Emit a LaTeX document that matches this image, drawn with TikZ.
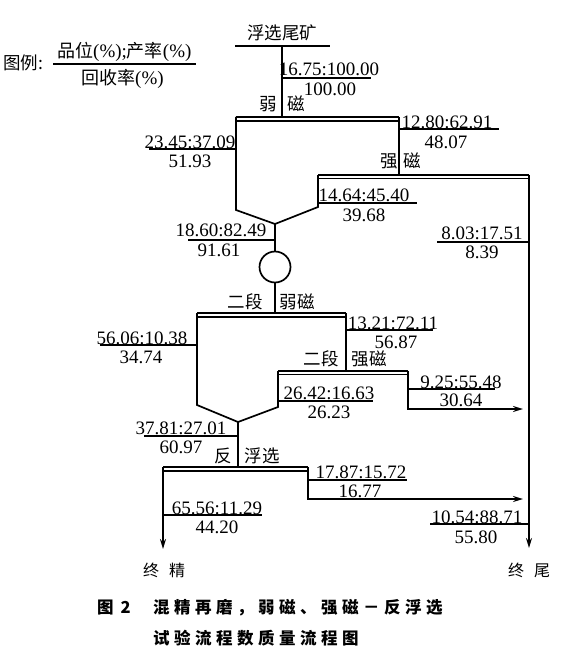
\documentclass[tikz,border=0pt]{standalone}
\usepackage{fontspec}
\setmainfont{Liberation Serif}
\newfontfamily\cjk{Noto Sans CJK SC}
\usetikzlibrary{arrows.meta}
\newcommand\gp{\kern4.5pt}
\begin{document}
\begin{tikzpicture}[x=1pt,y=-1pt,
  num/.style={font=\fontsize{19}{20}\selectfont,inner sep=0pt},
  zh/.style={font=\cjk\fontsize{17.5}{20}\selectfont,inner sep=0pt},
  captxt/.style={font=\cjk\bfseries\fontsize{16.5}{20}\selectfont,inner sep=0pt,anchor=west},
  flow/.style={line width=1.7pt,line join=miter},
  ul/.style={line width=1.3pt},
  dbl/.style={line width=1.2pt},
  arr/.style={flow,-{Stealth[length=10pt,width=6pt]}}]
\useasboundingbox (0,0) rectangle (567,658);
% ---------- legend ----------
\node[zh] (lg) at (23,63) {图例:};
\node[num,anchor=west] (lgt) at (57,52) {{\cjk\fontsize{18}{20}\selectfont 品位}(\%);{\cjk\fontsize{18}{20}\selectfont 产率}(\%)};
\node[num,anchor=west] (lgb) at (81,79) {{\cjk\fontsize{18}{20}\selectfont 回收率}(\%)};
\draw[ul] (53,64) -- (196,64);
% ---------- feed ----------
\node[zh] (feed) at (282,33) {浮选尾矿};
\coordinate (ft) at (282,46);
\draw[flow] (235,46) -- (330,46);
\node[num] (l1a) at (329,69) {16.75:100.00};
\node[num] (l1b) at (330,89) {100.00};
\draw[ul] (282,78) -- (371,78);
\node[zh] (s1a) at (268,104) {弱};
\node[zh] (s1b) at (296,104) {磁};
% ---------- separator 1 ----------
\coordinate (s1tl) at (236,117);
\coordinate (s1tr) at (399,117);
\coordinate (s1bot) at (275,224);
\coordinate (s1r) at (318,207);
\coordinate (s2tl) at (318,175);
\coordinate (s2tm) at (399,175);
\coordinate (s2tr) at (529,175);
\draw[flow] (ft) -- (282,117);
\draw[dbl] (s1tl) -- (s1tr);
\draw[dbl] (236,121) -- (399,121);
\draw[flow] (s1tl) -- (236,210) -- (s1bot) -- (s1r) -- (s2tl);
\draw[flow] (s1tr) -- (s2tm);
\node[num] (l2a) at (447,122) {12.80:62.91};
\node[num] (l2b) at (446,142) {48.07};
\draw[ul] (399,129) -- (499,129);
\node[num] (l3a) at (190,142) {23.45:37.09};
\node[num] (l3b) at (190,161) {51.93};
\draw[ul] (149,149) -- (236,149);
\node[zh] (s2a) at (389,161) {强};
\node[zh] (s2b) at (412,161) {磁};
% ---------- strong magnetic ----------
\draw[dbl] (s2tl) -- (s2tr);
\draw[dbl] (318,178.5) -- (529,178.5);
\coordinate (tail) at (529,548);
\draw[arr] (s2tr) -- (tail);
\node[num] (l4a) at (364,195) {14.64:45.40};
\node[num] (l4b) at (364,215) {39.68};
\draw[ul] (318,203) -- (417,203);
\node[num] (l5a) at (482,233) {8.03:17.51};
\node[num] (l5b) at (482,252) {8.39};
\draw[ul] (437,242) -- (529,242);
\node[num] (l6a) at (221,230) {18.60:82.49};
\node[num] (l6b) at (219,250) {91.61};
\draw[ul] (188,240) -- (275,240);
% ---------- regrind ----------
\node[circle,draw,line width=1.7pt,minimum size=31pt,inner sep=0pt] (mill) at (275,267) {};
\draw[flow] (s1bot) -- (mill.north);
\coordinate (s3t) at (275,313);
\draw[flow] (mill.south) -- (s3t);
\node[zh] (s3a) at (245,302) {二段};
\node[zh] (s3b) at (297,302) {弱磁};
% ---------- separator 3 ----------
\coordinate (s3tl) at (197,313);
\coordinate (s3tr) at (346,313);
\coordinate (s3bot) at (238,422);
\coordinate (s4tl) at (278,371);
\coordinate (s4tm) at (346,371);
\coordinate (s4tr) at (408,371);
\draw[dbl] (s3tl) -- (s3tr);
\draw[dbl] (197,317) -- (346,317);
\draw[flow] (s3tl) -- (197,405) -- (s3bot) -- (278,407) -- (s4tl);
\draw[flow] (s3tr) -- (s4tm);
\node[num] (l7a) at (393,323) {13.21:72.11};
\node[num] (l7b) at (396,342) {56.87};
\draw[ul] (346,330) -- (433,330);
\node[num] (l8a) at (142,338) {56.06:10.38};
\node[num] (l8b) at (141,357) {34.74};
\draw[ul] (100,345) -- (197,345);
\node[zh] (s4a) at (321,359) {二段};
\node[zh] (s4b) at (369,359) {强磁};
% ---------- separator 4 ----------
\draw[dbl] (s4tl) -- (s4tr);
\draw[dbl] (278,374.5) -- (408,374.5);
\coordinate (t2) at (523,409);
\draw[arr] (s4tr) -- (408,409) -- (t2);
\node[num] (l9a) at (461,382) {9.25:55.48};
\node[num] (l9b) at (461,400) {30.64};
\draw[ul] (408,389) -- (495,389);
\node[num] (l10a) at (329,393) {26.42:16.63};
\node[num] (l10b) at (329,412) {26.23};
\draw[ul] (278,401) -- (373,401);
\node[num] (l11a) at (181,428) {37.81:27.01};
\node[num] (l11b) at (181,447) {60.97};
\draw[ul] (144,436) -- (238,436);
\node[zh] (s5a) at (223,456) {反};
\node[zh] (s5b) at (262,456) {浮选};
% ---------- reverse flotation ----------
\coordinate (s5tl) at (163,467);
\coordinate (s5tr) at (308,467);
\coordinate (s5tm) at (238,467);
\draw[flow] (s3bot) -- (s5tm);
\draw[dbl] (s5tl) -- (s5tr);
\draw[dbl] (163,471) -- (308,471);
\coordinate (conc) at (163,549);
\draw[arr] (s5tl) -- (conc);
\coordinate (t3) at (523,499);
\draw[arr] (s5tr) -- (308,499) -- (t3);
\node[num] (l12a) at (361,472) {17.87:15.72};
\node[num] (l12b) at (360,491) {16.77};
\draw[ul] (308,480) -- (407,480);
\node[num] (l13a) at (217,508) {65.56:11.29};
\node[num] (l13b) at (217,527) {44.20};
\draw[ul] (163,515) -- (262,515);
\node[num] (l14a) at (477,517) {10.54:88.71};
\node[num] (l14b) at (476,537) {55.80};
\draw[ul] (430,524) -- (529,524);
% ---------- products ----------
\node[zh,font=\cjk\fontsize{16}{20}\selectfont] (pc) at (164,570) {终\kern10pt 精};
\node[zh,font=\cjk\fontsize{16}{20}\selectfont] (pt) at (529,570) {终\kern10pt 尾};
% ---------- caption ----------
\node[captxt] (c0) at (97,608) {图\kern7pt 2};
\node[captxt] (c1) at (153,608) {混\gp 精\gp 再\gp 磨\gp ，\gp 弱\gp 磁\gp 、\gp 强\gp 磁\gp －\gp 反\gp 浮\gp 选};
\node[captxt] (c2) at (153,638) {试\gp 验\gp 流\gp 程\gp 数\gp 质\gp 量\gp 流\gp 程\gp 图};
\end{tikzpicture}
\end{document}
